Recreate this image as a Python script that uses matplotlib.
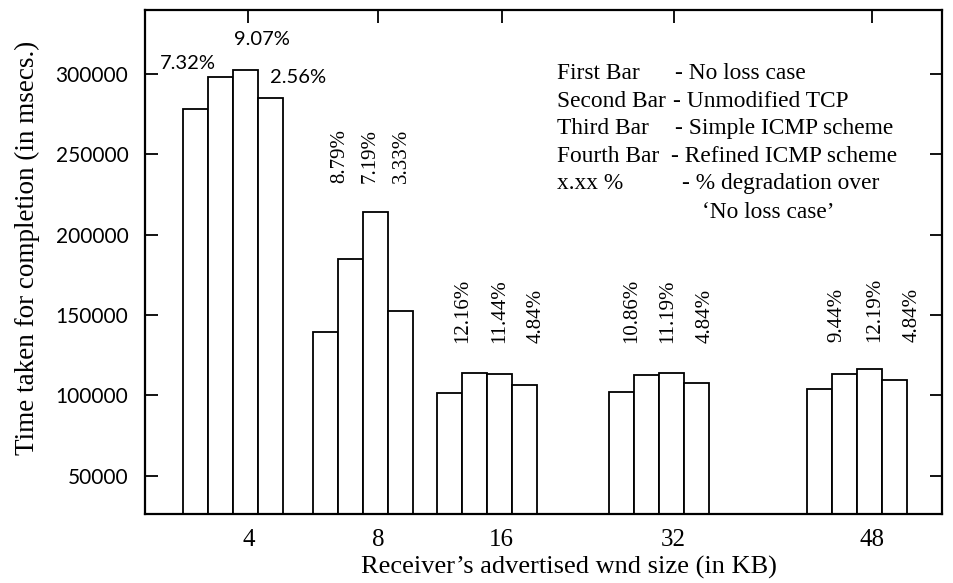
import matplotlib
matplotlib.use("Agg")
import matplotlib.pyplot as plt

# Receiver's advertised window sizes (KB)
window_sizes = ["4", "8", "16", "32", "48"]

# Completion time (msec) for each scheme
no_loss      = [278300, 139700, 101700, 102400, 104200]
unmodified   = [298000, 185000, 113800, 112800, 113200]
simple_icmp  = [302800, 214400, 113200, 113800, 116300]
refined_icmp = [285000, 152400, 106500, 107600, 109600]

# Degradation labels written above each group
degradation = [
    ["7.32%", "9.07%", "2.56%"],
    ["8.79%", "7.19%", "3.33%"],
    ["12.16%", "11.44%", "4.84%"],
    ["10.86%", "11.19%", "4.84%"],
    ["9.44%", "12.19%", "4.84%"],
]

y_ticks = [50000, 100000, 150000, 200000, 250000, 300000]

legend_keys = ["First Bar", "Second Bar", "Third Bar", "Fourth Bar", "x.xx %", ""]
legend_desc = ["- No loss case", "- Unmodified TCP", "- Simple ICMP scheme",
               "- Refined ICMP scheme", "- % degradation over", "\u2018No loss case\u2019"]

# ---- layout (x in bar-width units) ----
group_centre = [3.54, 8.72, 13.68, 20.56, 28.48]
bar_w = 1.0
serif = ["Liberation Serif", "DejaVu Serif"]
sans = ["Lato", "DejaVu Sans"]

fig = plt.figure(figsize=(9.54, 5.83), dpi=100)
ax = fig.add_axes([0.152, 0.118, 0.835, 0.865])

series = [no_loss, unmodified, simple_icmp, refined_icmp]
for k, vals in enumerate(series):
    xs = [c + (k - 1.5) * bar_w for c in group_centre]
    ax.bar(xs, vals, width=bar_w, bottom=0, color="white",
           edgecolor="black", linewidth=1.3, zorder=2)

ax.set_xlim(0, 31.88)
ax.set_ylim(26000, 340000)

ax.set_xticks([c + 0.6 for c in group_centre])
ax.set_xticklabels(window_sizes, fontfamily=serif, fontsize=18)
ax.set_yticks(y_ticks)
ax.set_yticklabels([str(v) for v in y_ticks], fontfamily=sans, fontsize=15)
ax.tick_params(axis="both", direction="in", length=9, width=1.3,
               top=True, right=True)
ax.tick_params(axis="y", pad=12)
ax.tick_params(axis="x", pad=11)
for s in ax.spines.values():
    s.set_linewidth(1.6)

ax.set_ylabel("Time taken for completion (in msecs.)", fontfamily=serif,
              fontsize=19.5)
ax.set_xlabel("Receiver\u2019s advertised wnd size (in KB)", fontfamily=serif,
              fontsize=19)
ax.yaxis.set_label_coords(-0.132, 0.528)
ax.xaxis.set_label_coords(0.532, -0.082)

# Horizontal degradation labels for the first group
first_dx = [-1.84, 1.14, 2.6]
first_y = [306900, 321300, 298200]
for txt, dx, yv in zip(degradation[0], first_dx, first_y):
    ax.text(group_centre[0] + dx, yv, txt, ha="center", va="center",
            fontfamily=sans, fontsize=14.5)

# Rotated degradation labels for the other groups
label_dx = [None, [-0.92, 0.28, 1.56], [-0.96, 0.52, 1.96],
            [-1.08, 0.36, 1.84], [-0.8, 0.72, 2.24]]
label_base = [None, 232300, 132700, 132700, 133500]
for g in range(1, len(window_sizes)):
    for txt, dx in zip(degradation[g], label_dx[g]):
        ax.text(group_centre[g] + dx, label_base[g], txt, rotation=90,
                ha="center", va="bottom", fontfamily=serif, fontsize=15)

# Key written inside the plot
key_y = [0.873, 0.819, 0.764, 0.710, 0.655, 0.599]
desc_x = [0.665, 0.663, 0.665, 0.660, 0.674, 0.699]
for key, desc, yy, dxx in zip(legend_keys, legend_desc, key_y, desc_x):
    if key:
        ax.text(0.517, yy, key, transform=ax.transAxes, ha="left",
                va="center", fontfamily=serif, fontsize=16.8)
    ax.text(dxx, yy, desc, transform=ax.transAxes, ha="left", va="center",
            fontfamily=serif, fontsize=16.8)

fig.savefig("out.png", dpi=100)
